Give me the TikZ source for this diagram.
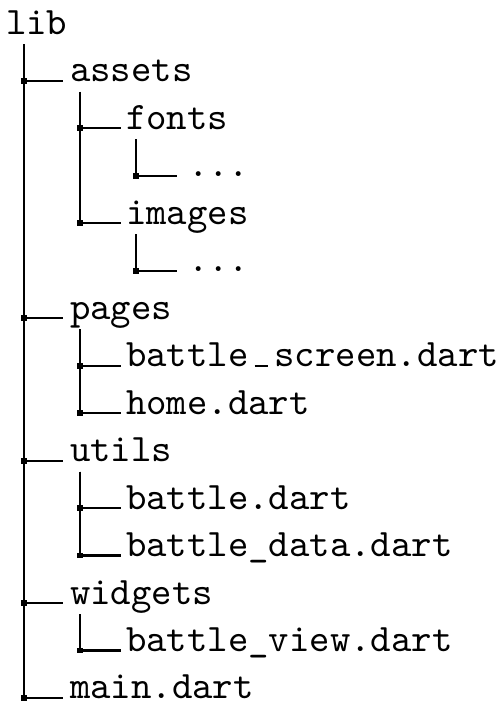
\documentclass[tikz,border=0pt]{standalone}
\usetikzlibrary{calc}
\newcommand\thinus{\leavevmode\kern.16em\vbox{\hrule width.34em}\kern.17em}
\begin{document}
\begin{tikzpicture}[x=0.2573pt,y=-0.2573pt,
  txt/.style={inner sep=0pt, outer sep=0pt, anchor=base west, font=\ttfamily},
  tree/.style={line width=0.55pt},
  sq/.style={fill, draw=none, minimum size=1.5pt, inner sep=0pt, outer sep=0pt, anchor=center}]
\useasboundingbox (0,0) rectangle (502,708);
\def\rs{47.46}
\def\bo{34.5}
\node[txt] (lib)     at (6,  {\bo})        {lib};
\node[txt] (assets)  at (70, {\bo+\rs*1})  {assets};
\node[txt] (fonts)   at (126,{\bo+\rs*2})  {fonts};
\node[txt] (dotsa)   at (188,{\bo+\rs*3})  {...};
\node[txt] (images)  at (126,{\bo+\rs*4})  {images};
\node[txt] (dotsb)   at (188,{\bo+\rs*5})  {...};
\node[txt] (pages)   at (70, {\bo+\rs*6})  {pages};
\node[txt] (bscreen) at (126,{\bo+\rs*7})  {battle\thinus screen.dart};
\node[txt] (home)    at (126,{\bo+\rs*8})  {home.dart};
\node[txt] (utils)   at (70, {\bo+\rs*9})  {utils};
\node[txt] (battle)  at (126,{\bo+\rs*10}) {battle.dart};
\node[txt] (bdata)   at (126,{\bo+\rs*11}) {battle\_data.dart};
\node[txt] (widgets) at (70, {\bo+\rs*12}) {widgets};
\node[txt] (bview)   at (126,{\bo+\rs*13}) {battle\_view.dart};
\node[txt] (main)    at (70, {\bo+\rs*14}) {main.dart};
% level 1
\foreach \c in {assets,pages,utils,widgets,main}
  \draw[tree] ($(lib.base west)+(18,10)$) |- node[sq,pos=0.5]{} ($(\c.base west)+(-7,-1)$);
% level 2
\foreach \p/\c in {assets/fonts,assets/images,pages/bscreen,pages/home,utils/battle,utils/bdata,widgets/bview}
  \draw[tree] ($(\p.base west)+(10,10)$) |- node[sq,pos=0.5]{} ($(\c.base west)+(-5,-1)$);
% level 3
\foreach \p/\c in {fonts/dotsa,images/dotsb}
  \draw[tree] ($(\p.base west)+(10,10)$) |- node[sq,pos=0.5]{} ($(\c.base west)+(-11,-1)$);
\end{tikzpicture}
\end{document}
